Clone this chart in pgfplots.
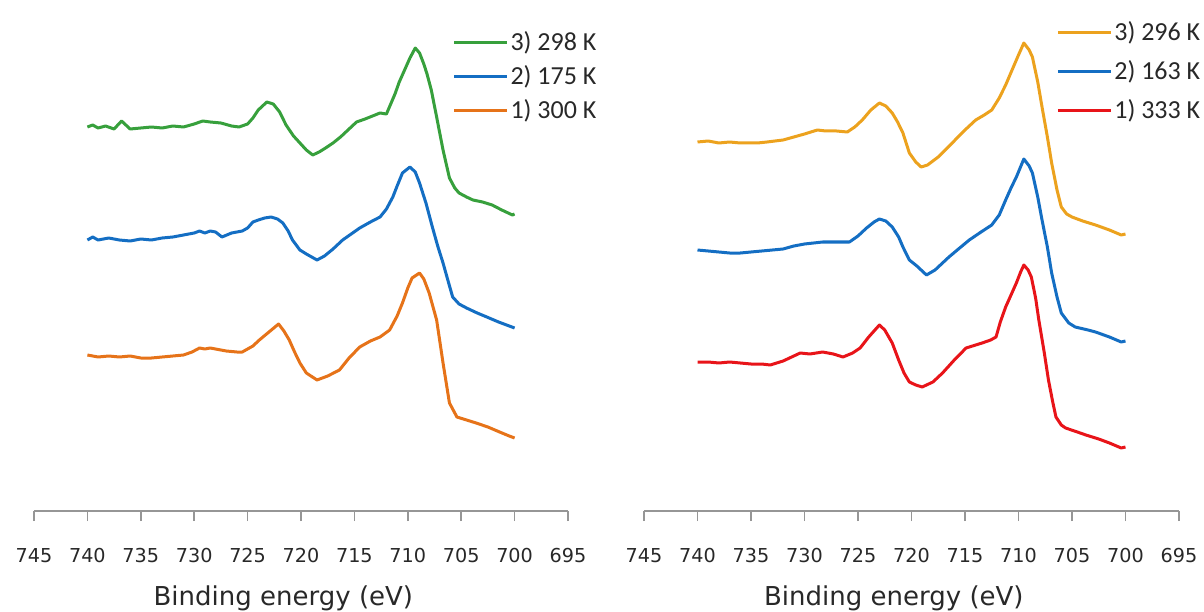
\documentclass[border=0pt]{standalone}
\usepackage{pgfplots}
\pgfplotsset{compat=1.18}
\usepackage{fontspec}
\setmainfont{DejaVu Sans}
\newfontfamily\legfont{Carlito}
\definecolor{cgreen}{RGB}{55,160,60}
\definecolor{cblue}{RGB}{20,110,195}
\definecolor{corange}{RGB}{230,115,25}
\definecolor{camber}{RGB}{236,162,30}
\definecolor{cred}{RGB}{232,20,25}
\definecolor{axisgray}{RGB}{150,150,150}
\definecolor{textgray}{RGB}{40,40,40}
\begin{document}
\begin{tikzpicture}
\path[use as bounding box] (0,0) rectangle (602pt,305.5pt);
\pgfplotsset{
  spec/.style={
    scale only axis, anchor=south west,
    xmin=695, xmax=745, x dir=reverse,
    ymin=1, ymax=492,
    axis x line=bottom, axis y line=none,
    axis line style={-, draw=axisgray, line width=0.8pt},
    xtick={695,700,...,745},
    tick align=outside, major tick length=5pt,
    tick style={draw=axisgray, line width=0.8pt},
    /pgf/number format/assume math mode=true,
    xticklabel style={font=\fontsize{9.6}{11}\selectfont, text=textgray, anchor=center, yshift=-17.5pt},
    xlabel={Binding energy (eV)},
    xlabel style={font=\fontsize{13}{15}\selectfont, text=textgray, at={(axis description cs:0.467,0)}, anchor=center, yshift=-43.5pt},
    legend style={draw=none, fill=none, anchor=north west, font=\legfont\fontsize{13}{15}\selectfont, inner sep=0pt, text=textgray, nodes={inner sep=1pt}},
    legend cell align=left,
    legend image code/.code={\draw[##1, line width=1.5pt] (0pt,0pt) -- (26.5pt,0pt);},
    every axis plot/.append style={line width=1.5pt, line join=round},
    clip=false,
  }
}
% ---------------- left panel ----------------
\begin{axis}[spec, at={(17pt,50pt)}, width=267pt, height=245.5pt,
  legend style={at={(axis description cs:0.783,0.982)}, row sep=4pt}]
\addplot[color=cgreen] table {
740.0 385
739.5 387
739.0 384
738.3 386
737.5 383
736.8 391
736.0 383
735.0 384
734.0 385
733.0 384
732.0 386
731.0 385
730.0 388
729.2 391
728.5 390
727.5 389
726.5 386
725.8 385
725.0 388
724.5 394
724.0 402
723.2 410
722.6 408
722.0 400
721.4 387
720.7 376
720.1 369
719.5 362
718.9 357
718.3 360
717.7 364
717.0 369
716.3 375
715.6 382
714.8 390
714.0 393
713.3 396
712.6 399
712.0 398
711.6 408
711.2 418
710.8 430
710.3 442
709.8 454
709.3 464
708.9 459
708.5 448
708.2 438
707.8 422
707.3 395
706.7 362
706.1 334
705.6 324
705.2 319
704.5 315
703.9 312
703.0 310
702.1 307
701.2 302
700.2 297
700.0 298
};
\addlegendentry{3) 298 K}
\addplot[color=cblue] table {
740.0 272
739.5 275
739.0 272
738.0 274
737.0 272
736.0 271
735.0 273
734.0 272
733.0 274
732.0 275
731.0 277
730.0 279
729.5 281
729.0 279
728.5 281
728.0 280
727.4 275
726.5 279
725.5 281
725.0 284
724.5 290
724.0 292
723.4 294
722.8 295
722.2 293
721.7 289
721.2 281
720.8 272
720.1 262
719.5 258
718.5 252
717.8 256
717.0 263
716.1 272
715.3 278
714.5 284
713.5 290
712.6 295
712.0 303
711.4 315
711.0 326
710.5 339
709.8 345
709.3 340
708.9 329
708.3 309
707.7 285
707.2 266
706.7 249
706.2 230
705.8 215
705.2 208
704.5 204
703.5 199
702.6 195
701.5 190
700.5 186
700.0 184
};
\addlegendentry{2) 175 K}
\addplot[color=corange] table {
740.0 157
739.0 155
738.0 156
737.0 155
736.0 156
735.0 154
734.0 154
733.0 155
732.0 156
731.0 157
730.2 160
729.5 164
729.0 163
728.5 164
728.0 163
727.0 161
726.0 160
725.5 160
724.5 166
723.9 172
723.0 180
722.1 188
721.6 181
721.1 172
720.6 160
720.1 149
719.5 139
718.5 132
717.5 136
716.4 142
715.5 154
714.5 165
713.5 171
712.6 175
711.7 182
711.0 196
710.5 209
710.0 224
709.6 234
708.9 239
708.5 233
708.0 219
707.3 192
706.7 149
706.1 109
705.4 95
704.5 92
703.6 89
702.5 85
701.4 80
700.5 76
700.0 74
};
\addlegendentry{1) 300 K}
\end{axis}
% ---------------- right panel ----------------
\begin{axis}[spec, at={(322pt,50pt)}, width=267.5pt, height=245.5pt,
  legend style={at={(axis description cs:0.770,1.002)}, row sep=6.5pt}]
\addplot[color=camber] table {
740.0 370
739.0 371
738.0 369
737.0 370
736.0 369
735.0 369
734.4 369
733.5 370
732.0 372
731.0 375
730.0 378
728.8 382
728.0 381
727.0 381
726.0 380
725.3 385
724.6 392
723.8 402
723.0 409
722.4 406
721.8 399
721.3 390
720.8 379
720.2 359
719.6 350
719.1 345
718.5 347
717.5 355
716.2 369
715.0 382
714.0 392
713.2 397
712.5 402
711.8 414
711.2 427
710.6 442
710.0 457
709.5 469
709.0 462
708.7 455
708.2 430
707.8 405
707.3 375
706.9 349
706.4 322
706.0 305
705.5 298
705.0 295
704.0 291
702.8 287
701.5 282
700.4 277
700.0 278
};
\addlegendentry{3) 296 K}
\addplot[color=cblue] table {
740.0 262
739.0 261
738.0 260
737.0 259
736.0 259
735.0 260
734.0 261
733.0 262
732.0 263
731.0 266
730.0 268
728.3 270
727.0 270
725.8 270
725.0 276
724.2 284
723.5 290
723.0 293
722.4 291
721.8 285
721.2 275
720.8 265
720.2 252
719.5 246
718.6 237
717.8 242
716.5 255
715.5 264
714.6 272
713.5 280
712.5 287
711.8 297
711.2 312
710.7 324
710.2 335
709.5 353
709.0 346
708.7 339
708.2 315
707.8 292
707.3 265
706.9 239
706.4 215
706.0 199
705.3 189
704.7 185
703.5 182
702.8 180
701.5 175
700.4 170
700.0 171
};
\addlegendentry{2) 163 K}
\addplot[color=cred] table {
740.0 150
739.0 150
738.0 149
737.0 150
736.0 149
735.0 148
734.0 148
733.2 147
732.0 151
731.2 155
730.4 159
729.5 158
728.3 160
727.3 158
726.4 155
725.5 159
724.8 164
724.0 175
723.0 187
722.5 182
721.8 169
721.2 152
720.7 139
720.2 130
719.6 127
719.0 125
718.0 130
717.1 139
716.0 152
714.9 164
714.0 167
713.4 169
712.6 172
712.1 175
711.7 190
711.2 205
710.7 217
710.2 229
709.8 240
709.5 247
709.1 242
708.8 235
708.4 214
708.1 192
707.6 160
707.2 132
706.8 110
706.5 95
706.0 87
705.6 84
704.5 80
703.7 77
702.5 73
701.5 69
700.4 64
700.0 65
};
\addlegendentry{1) 333 K}
\end{axis}
\end{tikzpicture}
\end{document}
